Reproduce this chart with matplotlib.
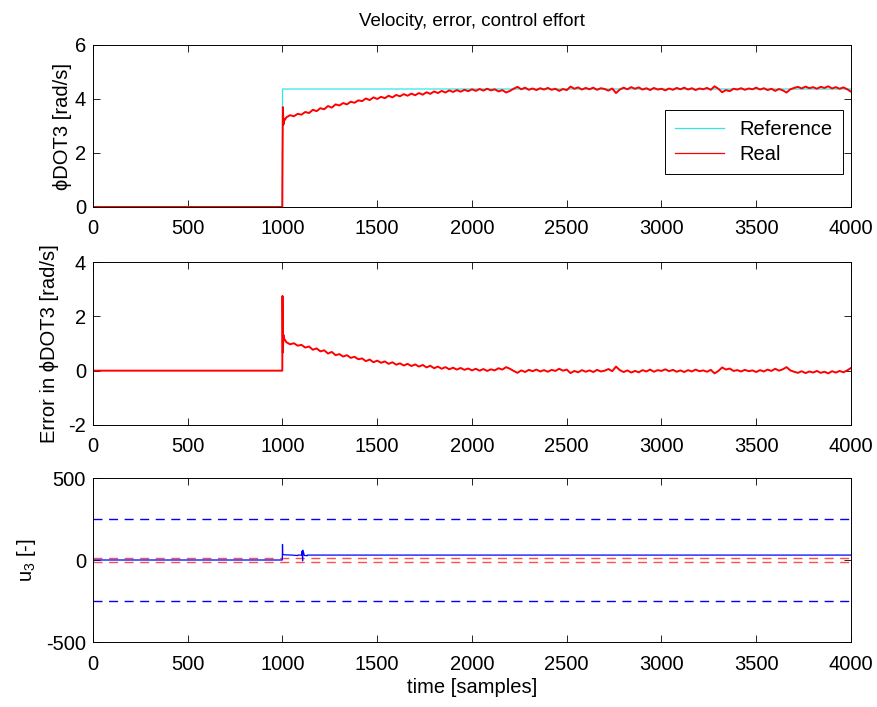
import numpy as np
import matplotlib
matplotlib.use('Agg')
import matplotlib.pyplot as plt

plt.rcParams['font.family'] = ['Liberation Sans', 'DejaVu Sans']
plt.rcParams['mathtext.fontset'] = 'custom'
plt.rcParams['mathtext.rm'] = 'Liberation Sans'
plt.rcParams['mathtext.it'] = 'Liberation Sans'
plt.rcParams['lines.scale_dashes'] = False
plt.rcParams['axes.unicode_minus'] = False

# Reference velocity: step at sample 1000
ref_x = [0, 999, 1000, 4000]
ref_y = [0, 0, 4.37, 4.37]
ref_level = 4.37

real_x = [0, 999, 1000, 1002, 1005, 1008, 1012] + list(range(1020, 4001, 20))
real_y = [0, 0, 1.62, 3.70, 3.05, 3.25, 3.22,
          3.32, 3.40, 3.36, 3.45, 3.42,
          3.52, 3.48, 3.60, 3.55, 3.66,
          3.62, 3.74, 3.68, 3.80, 3.76,
          3.85, 3.80, 3.90, 3.86, 3.95,
          3.92, 4.02, 3.96, 4.06, 4.00,
          4.08, 4.03, 4.12, 4.06, 4.15,
          4.10, 4.18, 4.12, 4.20, 4.14,
          4.22, 4.16, 4.25, 4.19, 4.28,
          4.22, 4.30, 4.24, 4.32, 4.26,
          4.33, 4.27, 4.34, 4.29, 4.36,
          4.30, 4.37, 4.31, 4.38, 4.32,
          4.36, 4.28, 4.33, 4.24, 4.30,
          4.38, 4.45, 4.36, 4.42, 4.34,
          4.39, 4.33, 4.40, 4.35, 4.41,
          4.34, 4.38, 4.30, 4.37, 4.33,
          4.46, 4.38, 4.43, 4.35, 4.41,
          4.36, 4.42, 4.34, 4.40, 4.37,
          4.31, 4.39, 4.22, 4.35, 4.42,
          4.36, 4.44, 4.38, 4.43, 4.35,
          4.40, 4.33, 4.41, 4.35, 4.38,
          4.32, 4.39, 4.34, 4.41, 4.36,
          4.42, 4.35, 4.40, 4.33, 4.39,
          4.36, 4.41, 4.34, 4.47, 4.38,
          4.25, 4.33, 4.29, 4.38, 4.35,
          4.40, 4.34, 4.39, 4.36, 4.42,
          4.35, 4.40, 4.33, 4.38, 4.30,
          4.37, 4.32, 4.24, 4.36, 4.41,
          4.45, 4.39, 4.46, 4.40, 4.44,
          4.38, 4.45, 4.41, 4.47, 4.39,
          4.44, 4.38, 4.43, 4.36, 4.27]

# Control effort u3
u_x = [0, 999, 1000, 1001, 1003, 1050, 1080, 1081, 1100, 1104, 1106, 1108, 1115, 1130, 1131, 1200, 4000]
u_y = [0, 0, 95, 40, 32, 30, 27, 30, 30, 55, -5, 60, 28, 26, 30, 30, 30]
u_sat = 250
u_dead = 10

real_x = np.array(real_x)
real_y = np.array(real_y)
err_y = np.where(real_x >= 1000, ref_level, 0.0) - real_y

W, H = 878, 707
fig = plt.figure(figsize=(W / 100, H / 100), dpi=100)


def box(top, bottom):
    return [93 / W, 1 - bottom / H, (851 - 93) / W, (bottom - top) / H]


fs = 14.5
ax1 = fig.add_axes(box(45, 207))
ax2 = fig.add_axes(box(262, 425))
ax3 = fig.add_axes(box(478, 642))

for ax in (ax1, ax2, ax3):
    ax.set_xlim(0, 4000)
    ax.set_xticks(range(0, 4001, 500))
    ax.tick_params(direction='in', top=True, right=True, length=5, width=0.6, labelsize=fs)
    ax.tick_params(axis='x', pad=9)
    ax.tick_params(axis='y', pad=5)
    for s in ax.spines.values():
        s.set_linewidth(0.7)

ax1.plot(ref_x, ref_y, color='#33e6e6', lw=0.9, label='Reference')
ax1.plot(real_x, real_y, color='red', lw=1.4, label='Real')
ax1.set_ylim(0, 6)
ax1.set_yticks([0, 2, 4, 6])
ax1.set_ylabel('ϕDOT3 [rad/s]', fontsize=fs, labelpad=2)
ax1.set_title('Velocity, error, control effort', fontsize=13.5, pad=14)
leg = ax1.legend(loc='upper right', bbox_to_anchor=(0.9894, 0.599), fontsize=fs,
                 fancybox=False, edgecolor='black', framealpha=1, borderaxespad=0,
                 handlelength=2.4, handletextpad=0.8, labelspacing=0.3,
                 borderpad=0.5)
leg.get_frame().set_linewidth(0.7)
for h in leg.get_lines():
    h.set_linewidth(0.9)

ax2.plot(real_x, err_y, color='red', lw=1.4)
ax2.set_ylim(-2, 4)
ax2.set_yticks([-2, 0, 2, 4])
ax2.set_ylabel('Error in ϕDOT3 [rad/s]', fontsize=fs, labelpad=7)

for v in (u_sat, -u_sat):
    ax3.axhline(v, color='blue', lw=1.0, ls=(0, (6.5, 4.7)))
for v in (u_dead, -u_dead):
    ax3.axhline(v, color='#ff5050', lw=1.0, ls=(0, (6.5, 4.7)))
ax3.plot(u_x, u_y, color='blue', lw=0.9)
ax3.set_ylim(-500, 500)
ax3.set_yticks([-500, 0, 500])
ax3.set_ylabel('u$_3$ [-]', fontsize=fs, labelpad=6)
ax3.set_xlabel('time [samples]', fontsize=fs, labelpad=3)

fig.savefig('out.png', dpi=100)
